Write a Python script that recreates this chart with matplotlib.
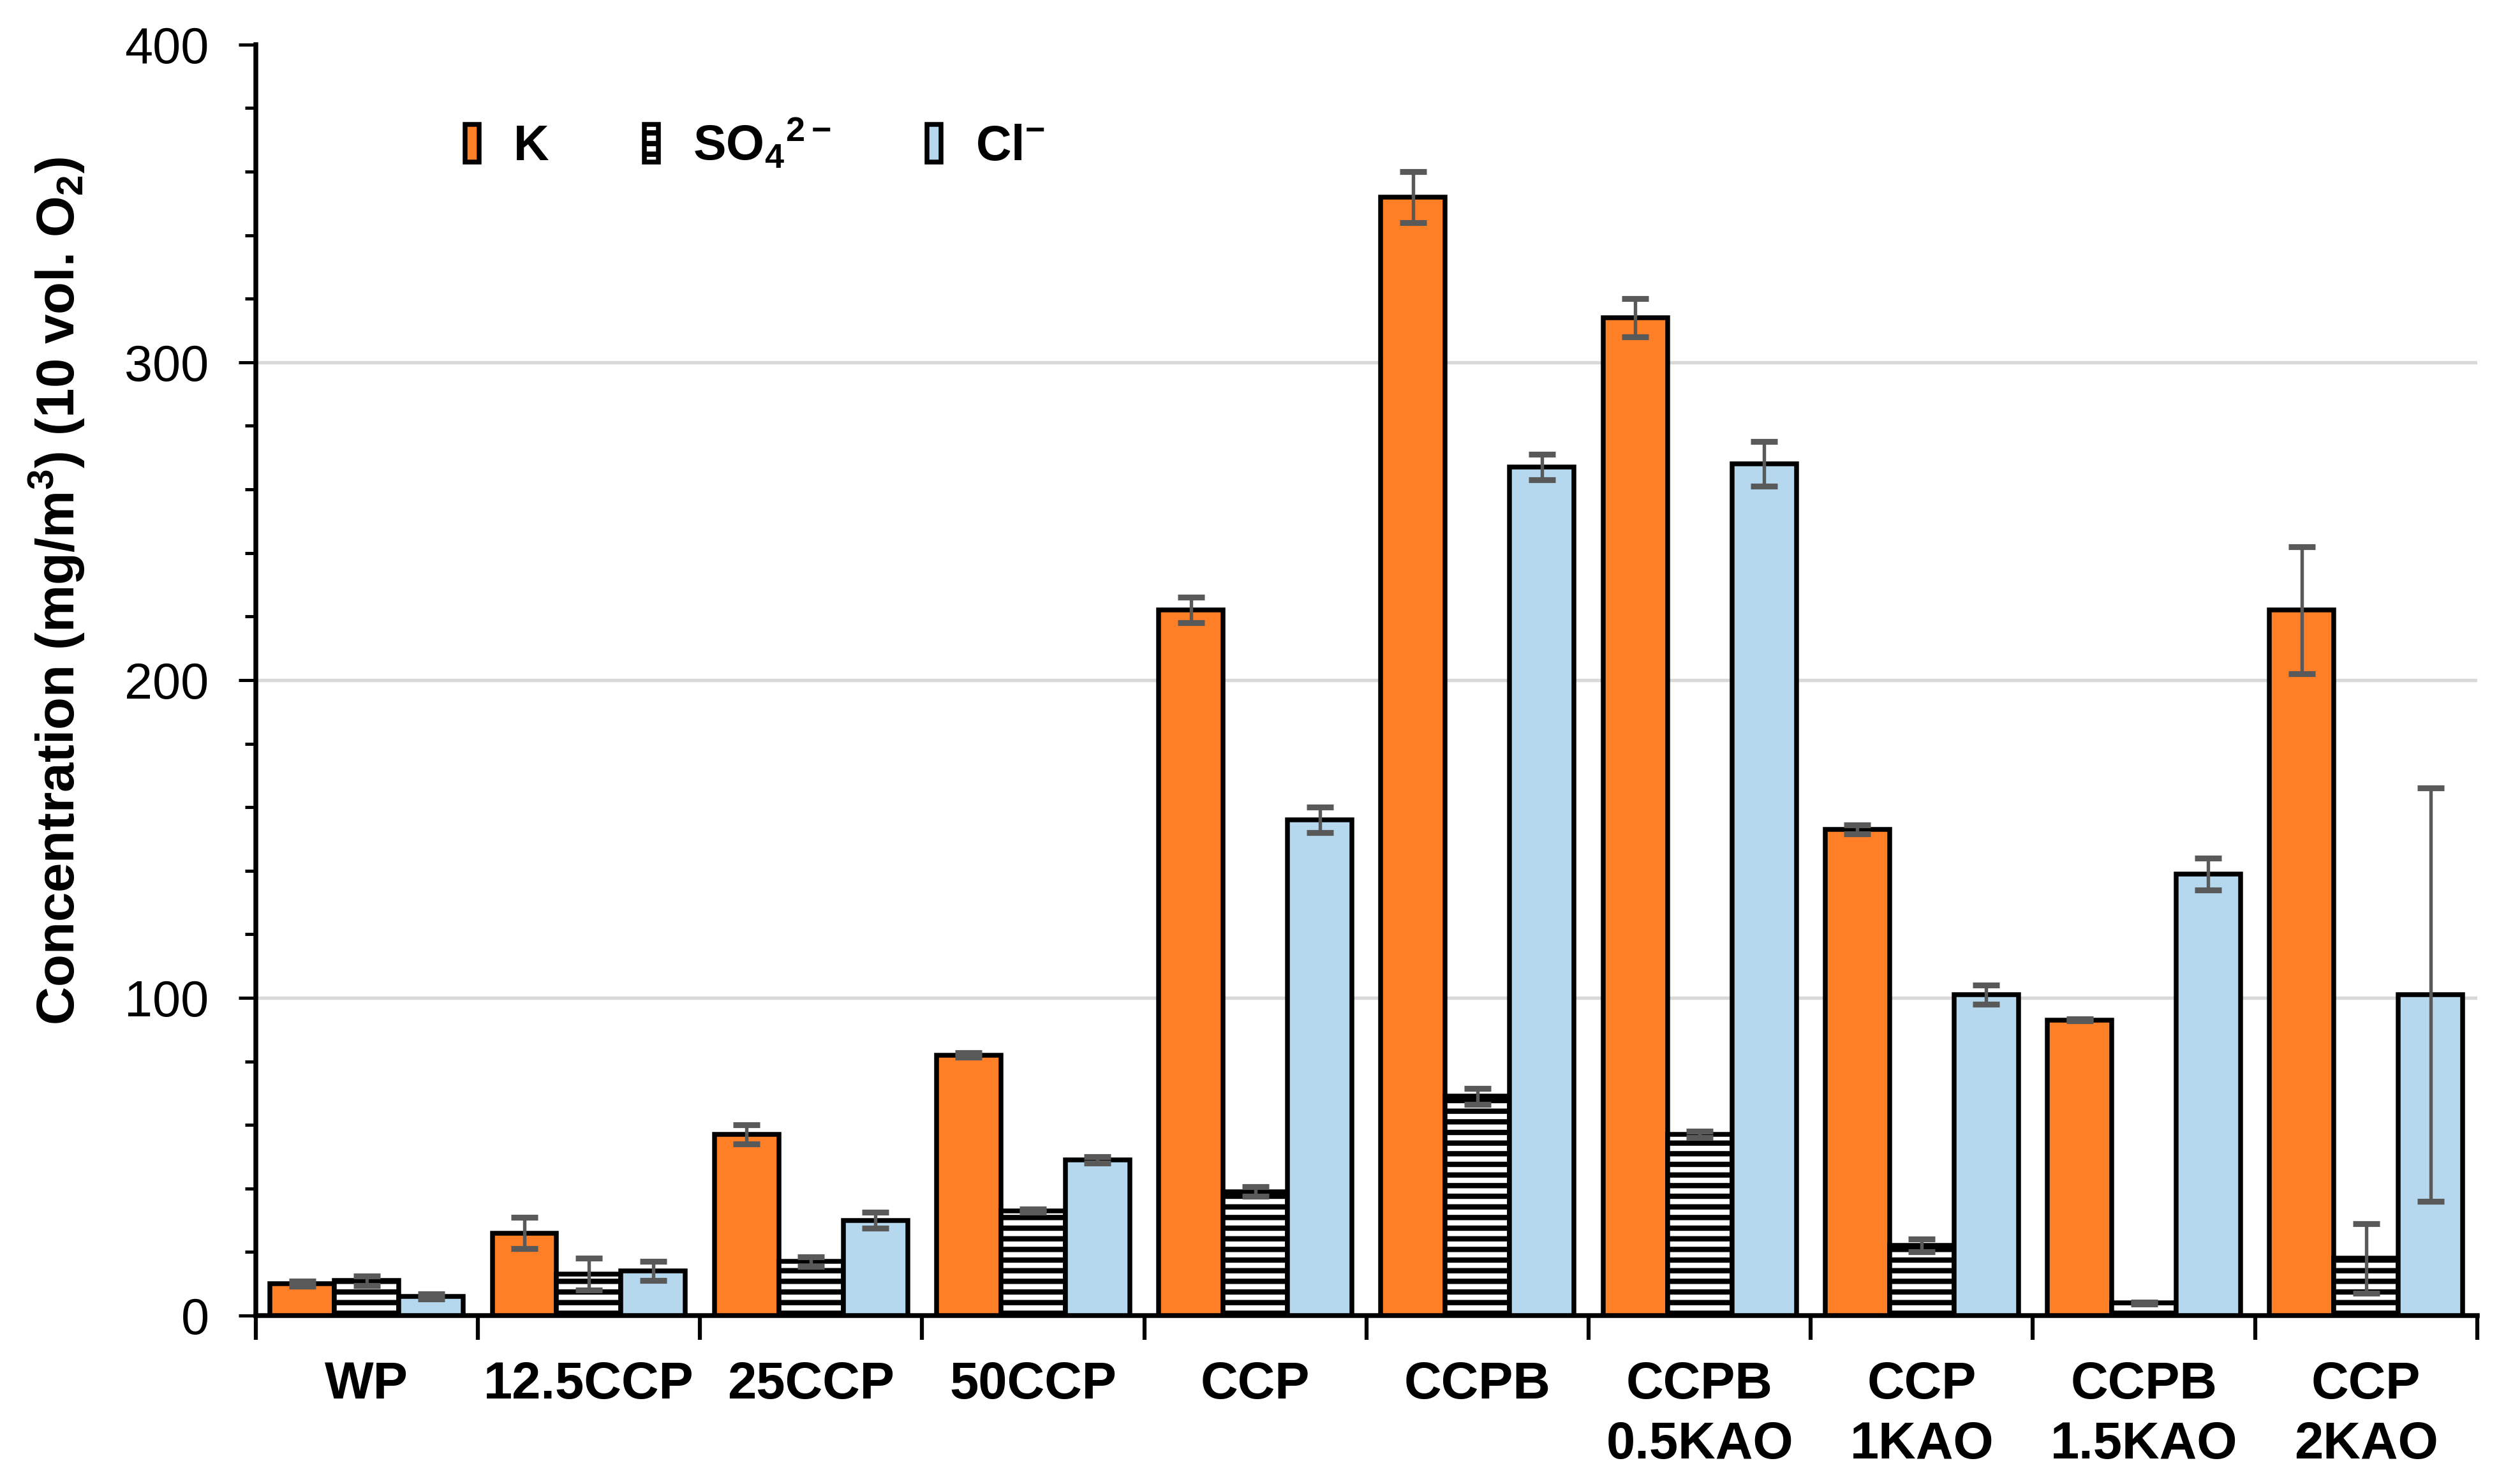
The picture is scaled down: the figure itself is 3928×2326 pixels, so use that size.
import numpy as np
import matplotlib
matplotlib.use('Agg')
import matplotlib.pyplot as plt

# data
groups = ['WP', '12.5CCP', '25CCP', '50CCP', 'CCP', 'CCPB',
          'CCPB\n0.5KAO', 'CCP\n1KAO', 'CCPB\n1.5KAO', 'CCP\n2KAO']
k_vals = [10, 26, 57, 82, 222, 352, 314, 153, 93, 222]
k_err = [0.8, 5, 3, 0.7, 4, 8, 6, 1.5, 0.3, 20]
so4_vals = [11, 13, 17, 33, 39, 69, 57, 22, 4, 18]
so4_err = [1.5, 5, 1.5, 0.5, 1.5, 2.5, 1, 2, 0.3, 11]
cl_vals = [6, 14, 30, 49, 156, 267, 268, 101, 139, 101]
cl_err = [0.8, 3, 2.5, 1, 4, 4, 7, 3, 5, 65]

plt.rcParams['font.family'] = ['Liberation Sans', 'DejaVu Sans']
plt.rcParams['mathtext.fontset'] = 'custom'
plt.rcParams['mathtext.rm'] = 'Liberation Sans:bold'
plt.rcParams['mathtext.bf'] = 'Liberation Sans:bold'
plt.rcParams['hatch.linewidth'] = 2.0

fig = plt.figure(figsize=(3928 / 300, 2326 / 300), dpi=300)
ax = fig.add_axes([0.102, 0.1135, 0.8865, 0.8565])

x = np.arange(len(groups))
w = 0.29
err_kw = dict(ecolor='#595959', elinewidth=1.3, capsize=5, capthick=2.2)

ax.bar(x - w, k_vals, w, color='#FF7F27', edgecolor='black', linewidth=1.8,
       label='K', zorder=3)
ax.bar(x, so4_vals, w, color='white', edgecolor='black', linewidth=1.8,
       hatch='---', label=r'SO$_\mathbf{4}$$^{\mathbf{2-}}$', zorder=3)
ax.bar(x + w, cl_vals, w, color='#B5D8EF', edgecolor='black', linewidth=1.8,
       label=r'Cl$^{\mathbf{-}}$', zorder=3)

ax.errorbar(x - w, k_vals, yerr=k_err, fmt='none', zorder=4, **err_kw)
ax.errorbar(x, so4_vals, yerr=so4_err, fmt='none', zorder=4, **err_kw)
ax.errorbar(x + w, cl_vals, yerr=cl_err, fmt='none', zorder=4, **err_kw)

for g in [100, 200, 300]:
    ax.axhline(g, color='#d9d9d9', linewidth=1.3, zorder=0)

ax.set_xlim(-0.5, len(groups) - 0.5)
ax.set_ylim(0, 400)

ax.set_yticks(np.arange(0, 401, 100))
ax.set_yticks(np.arange(0, 401, 20), minor=True)
ax.tick_params(axis='y', which='major', length=6.5, width=1.2,
               labelsize=19, pad=11)
ax.tick_params(axis='y', which='minor', length=4.2, width=1.2)

ax.set_xticks(np.arange(-0.5, len(groups), 1.0))
ax.set_xticklabels([])
ax.set_xticks(x, minor=True)
ax.set_xticklabels(groups, minor=True, fontsize=19.5, fontweight='bold',
                   linespacing=1.3, va='top')
ax.tick_params(axis='x', which='major', length=9, width=1.5)
ax.tick_params(axis='x', which='minor', length=0, pad=17)

for s in ['top', 'right']:
    ax.spines[s].set_visible(False)
ax.spines['left'].set_linewidth(1.8)
ax.spines['bottom'].set_linewidth(1.8)

ax.set_ylabel(r'Concentration (mg/m$^\mathbf{3}$) (10 vol. O$_\mathbf{2}$)',
              fontsize=20, fontweight='bold')
ax.yaxis.set_label_coords(-0.076, 0.57)

ax.legend(loc='center left', bbox_to_anchor=(0.081, 0.922), ncol=3,
          frameon=False, borderpad=0.1, handlelength=0.28, handleheight=0.8,
          handletextpad=0.7, columnspacing=1.95,
          prop={'size': 18.5, 'weight': 'bold'})

fig.savefig('out.png', dpi=300)
